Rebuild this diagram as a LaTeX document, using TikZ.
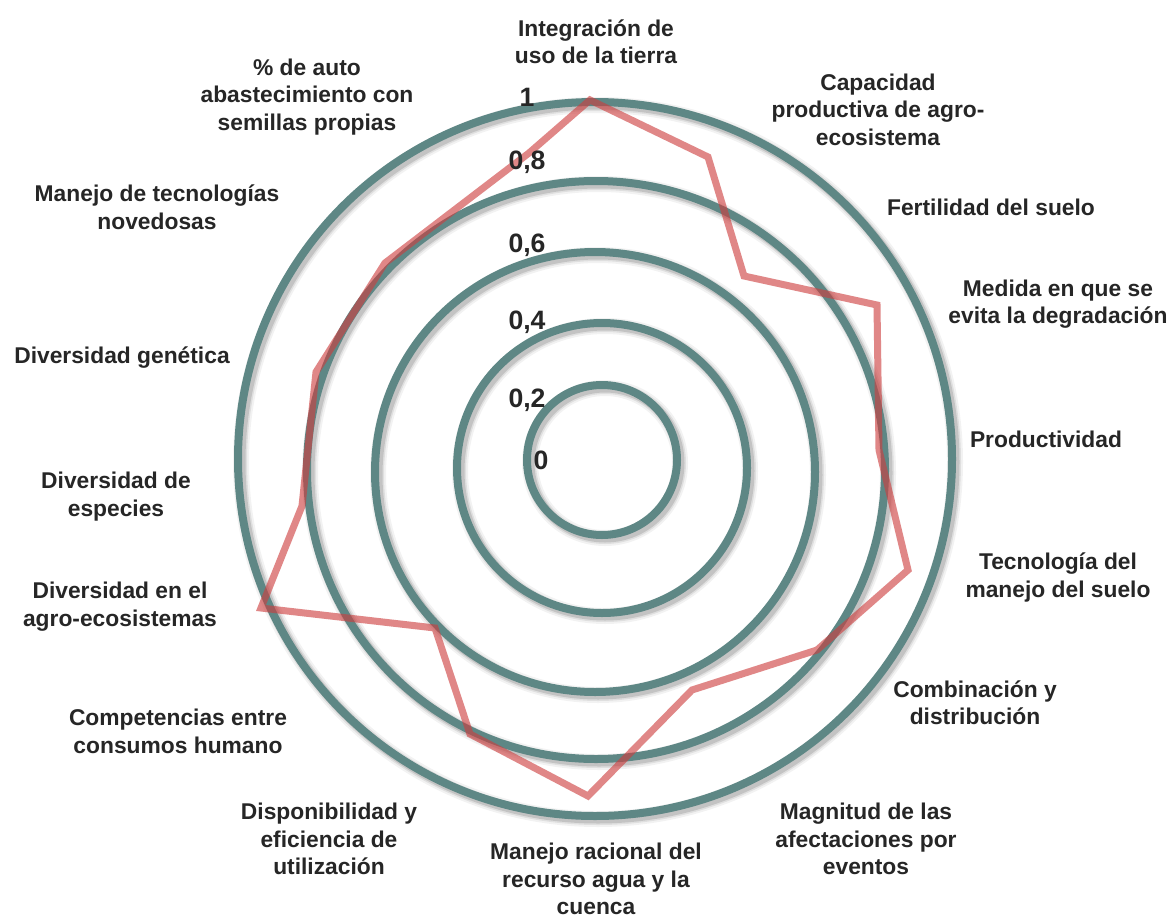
\documentclass[tikz,border=0pt]{standalone}
\usepackage{fontspec}
\setmainfont{Liberation Sans}
\usepackage{tikz}
\definecolor{anillo}{RGB}{94,135,133}
\definecolor{serie}{RGB}{205,62,62}
\definecolor{texto}{RGB}{38,38,38}
\tikzset{anillo/.style={draw=anillo, line width=8pt,
		preaction={draw=black, opacity=0.05, line width=16pt, transform canvas={shift={(3pt,-3pt)}}},
		preaction={draw=black, opacity=0.08, line width=12pt, transform canvas={shift={(3pt,-3pt)}}},
		preaction={draw=black, opacity=0.12, line width=9pt, transform canvas={shift={(3pt,-3pt)}}}},
	serie/.style={draw=serie, line width=7pt, opacity=0.62, line join=miter},
	etiqueta/.style={font=\fontsize{22.8}{27.5}\selectfont\bfseries, text=texto,
		align=center, inner sep=0pt},
	valor/.style={font=\fontsize{26.6}{30}\selectfont\bfseries, text=texto, inner sep=0pt}}

\begin{document}
\begin{tikzpicture}[x=1pt,y=-1pt]
	\path[use as bounding box, fill=white] (0,0) rectangle (1175,918);
	% anillos
	\draw[anillo] (602,460) circle[radius=75pt];
	\draw[anillo] (602,468) circle[radius=145pt];
	\draw[anillo] (595,472) circle[radius=220pt];
	\draw[anillo] (596,470) circle[radius=289pt];
	\draw[anillo] (595,459) circle[radius=357pt];
	% serie
	\coordinate (p0) at (590,100);
	\coordinate (p1) at (708,157);
	\coordinate (p2) at (744,276);
	\coordinate (p3) at (877,305);
	\coordinate (p4) at (879,450);
	\coordinate (p5) at (908,570);
	\coordinate (p6) at (817,650);
	\coordinate (p7) at (692,690);
	\coordinate (p8) at (588,796);
	\coordinate (p9) at (470,734);
	\coordinate (p10) at (435,628);
	\coordinate (p11) at (261,608);
	\coordinate (p12) at (302,506);
	\coordinate (p13) at (316,372);
	\coordinate (p14) at (385,263);
	\coordinate (p15) at (529,153);
	\draw[serie] (p0) -- (p1) -- (p2) -- (p3) -- (p4) -- (p5) -- (p6) -- (p7)
		-- (p8) -- (p9) -- (p10) -- (p11) -- (p12) -- (p13) -- (p14) -- (p15) -- cycle;
	% escala
	\node[valor] (v10) at (527,97) {1};
	\node[valor] (v08) at (527,162) {0,8};
	\node[valor] (v06) at (527,245) {0,6};
	\node[valor] (v04) at (527,322) {0,4};
	\node[valor] (v02) at (527,400) {0,2};
	\node[valor] (v00) at (541,460) {0};
	% ejes
	\node[etiqueta] (integracion) at (596,41.5) {Integración de\\uso de la tierra};
	\node[etiqueta] (capacidad) at (878,109.5) {Capacidad\\productiva de agro-\\ecosistema};
	\node[etiqueta] (fertilidad) at (991,207) {Fertilidad del suelo};
	\node[etiqueta] (medida) at (1058,304) {Medida en que se\\evita la degradación};
	\node[etiqueta] (productividad) at (1046,439) {Productividad};
	\node[etiqueta] (tecnologia) at (1058,577.5) {Tecnología del\\manejo del suelo};
	\node[etiqueta] (combinacion) at (975,702.5) {Combinación y\\distribución};
	\node[etiqueta] (magnitud) at (866,839) {Magnitud de las\\afectaciones por\\eventos};
	\node[etiqueta] (agua) at (596,879) {Manejo racional del\\recurso agua y la\\cuenca};
	\node[etiqueta] (disponibilidad) at (329,839) {Disponibilidad y\\eficiencia de\\utilización};
	\node[etiqueta] (competencias) at (178,731.5) {Competencias entre\\consumos humano};
	\node[etiqueta] (divagro) at (120,606.5) {Diversidad en el\\agro-ecosistemas};
	\node[etiqueta] (divespecies) at (116,496.5) {Diversidad de\\especies};
	\node[etiqueta] (genetica) at (122,358) {Diversidad genética};
	\node[etiqueta] (novedosas) at (157,207) {Manejo de tecnologías\\novedosas};
	\node[etiqueta] (semillas) at (307,97) {\% de auto\\abastecimiento con\\semillas propias};
\end{tikzpicture}
\end{document}
